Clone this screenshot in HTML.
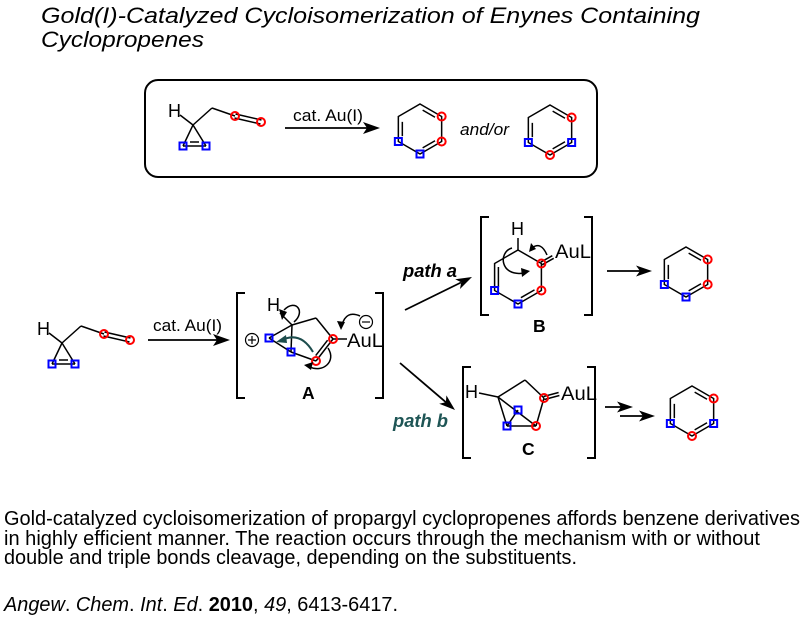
<!DOCTYPE html>
<html><head><meta charset="utf-8"><style>
html,body{margin:0;padding:0;background:#fff;}
svg{display:block;}
text{font-family:"Liberation Sans",Arial,sans-serif;fill:#000;}
</style></head><body>
<svg width="805" height="619" viewBox="0 0 805 619" xmlns="http://www.w3.org/2000/svg">
<rect width="805" height="619" fill="#fff"/>
<defs>
<g id="sm">
  <text x="-25" y="-8" font-size="18">H</text>
  <g stroke="#000" stroke-width="1.5" fill="none">
    <line x1="-13" y1="-10" x2="0" y2="0"/>
    <line x1="0" y1="0" x2="-10" y2="21"/>
    <line x1="0" y1="0" x2="13" y2="21"/>
    <line x1="-10" y1="21" x2="13" y2="21"/>
    <line x1="-3" y1="17" x2="6" y2="17"/>
    <line x1="0" y1="0" x2="19" y2="-17"/>
    <line x1="19" y1="-17" x2="42" y2="-9"/>
    <line x1="42.5" y1="-11" x2="68.5" y2="-5"/>
    <line x1="41.5" y1="-7" x2="67.5" y2="-1"/>
  </g>
  <circle cx="42" cy="-9" r="4" fill="none" stroke="#f00" stroke-width="2"/>
  <circle cx="68" cy="-3" r="4" fill="none" stroke="#f00" stroke-width="2"/>
  <rect x="-13.5" y="17.5" width="7" height="7" fill="none" stroke="#00f" stroke-width="2"/>
  <rect x="9.5" y="17.5" width="7" height="7" fill="none" stroke="#00f" stroke-width="2"/>
</g>
<g id="hex">
  <g stroke="#000" stroke-width="1.5" fill="none">
    <polygon points="0,-25 21.65,-12.5 21.65,12.5 0,25 -21.65,12.5 -21.65,-12.5"/>
    <line x1="2.65" y1="-18.87" x2="15.02" y2="-11.73"/>
    <line x1="15.02" y1="11.73" x2="2.65" y2="18.87"/>
    <line x1="-17.67" y1="-7.14" x2="-17.67" y2="7.14"/>
  </g>
</g>
</defs>

<!-- Title -->
<text x="41" y="23" font-size="22.5" font-style="italic" textLength="659" lengthAdjust="spacingAndGlyphs">Gold(I)-Catalyzed Cycloisomerization of Enynes Containing</text>
<text x="41" y="47" font-size="22.5" font-style="italic" textLength="163" lengthAdjust="spacingAndGlyphs">Cyclopropenes</text>

<!-- Top box -->
<rect x="145" y="80" width="452" height="97" rx="13" ry="13" fill="none" stroke="#000" stroke-width="2"/>
<use href="#sm" transform="translate(193,125)"/>
<text x="293" y="121" font-size="17" textLength="70" lengthAdjust="spacingAndGlyphs">cat. Au(I)</text>
<line x1="285" y1="128" x2="367" y2="128" stroke="#000" stroke-width="1.8"/>
<polygon points="380,128 363,122 367,128 363,134" fill="#000"/>
<use href="#hex" transform="translate(420,129)"/>
<circle cx="441.65" cy="116.5" r="4" fill="none" stroke="#f00" stroke-width="2"/>
<circle cx="441.65" cy="141.5" r="4" fill="none" stroke="#f00" stroke-width="2"/>
<rect x="416.5" y="150.5" width="7" height="7" fill="none" stroke="#00f" stroke-width="2"/>
<rect x="394.85" y="138" width="7" height="7" fill="none" stroke="#00f" stroke-width="2"/>
<text x="460" y="135" font-size="17" font-style="italic" textLength="49" lengthAdjust="spacingAndGlyphs">and/or</text>
<use href="#hex" transform="translate(550,130)"/>
<circle cx="571.65" cy="117.5" r="4" fill="none" stroke="#f00" stroke-width="2"/>
<rect x="568.15" y="139" width="7" height="7" fill="none" stroke="#00f" stroke-width="2"/>
<circle cx="550" cy="155" r="4" fill="none" stroke="#f00" stroke-width="2"/>
<rect x="524.85" y="139" width="7" height="7" fill="none" stroke="#00f" stroke-width="2"/>

<!-- Main starting material -->
<use href="#sm" transform="translate(62,343)"/>
<text x="153" y="331" font-size="17" textLength="69" lengthAdjust="spacingAndGlyphs">cat. Au(I)</text>
<line x1="148" y1="340" x2="217" y2="340" stroke="#000" stroke-width="1.8"/>
<polygon points="230,340 213,334 217,340 213,346" fill="#000"/>

<!-- Brackets A -->
<g stroke="#000" stroke-width="2" fill="none">
  <polyline points="245,293 237,293 237,398 245,398"/>
  <polyline points="375,293 383,293 383,398 375,398"/>
</g>
<!-- Intermediate A -->
<circle cx="252" cy="340" r="6.5" fill="none" stroke="#000" stroke-width="1.2"/>
<line x1="248" y1="340" x2="256" y2="340" stroke="#000" stroke-width="1.2"/>
<line x1="252" y1="336" x2="252" y2="344" stroke="#000" stroke-width="1.2"/>
<text x="267" y="311" font-size="18">H</text>
<g stroke="#000" stroke-width="1.5" fill="none">
  <line x1="280" y1="313" x2="292" y2="325"/>
  <line x1="269" y1="338" x2="292" y2="325"/>
  <line x1="292" y1="325" x2="291" y2="352"/>
  <line x1="269" y1="338" x2="291" y2="352"/>
  <line x1="291" y1="352" x2="316" y2="361"/>
  <line x1="292" y1="325" x2="316" y2="318"/>
  <line x1="316" y1="318" x2="333" y2="339"/>
  <line x1="333" y1="339" x2="316" y2="361"/>
  <line x1="327.6" y1="340.2" x2="315.7" y2="355.6"/>
  <line x1="333" y1="339" x2="347" y2="339"/>
</g>
<circle cx="333" cy="339" r="4" fill="none" stroke="#f00" stroke-width="2"/>
<circle cx="316" cy="361" r="4" fill="none" stroke="#f00" stroke-width="2"/>
<rect x="265.5" y="334.5" width="7" height="7" fill="none" stroke="#00f" stroke-width="2"/>
<rect x="287.5" y="348.5" width="7" height="7" fill="none" stroke="#00f" stroke-width="2"/>
<text x="347" y="347" font-size="19" textLength="36" lengthAdjust="spacingAndGlyphs">AuL</text>
<circle cx="366" cy="322" r="6.5" fill="none" stroke="#000" stroke-width="1.2"/>
<line x1="362" y1="322" x2="370" y2="322" stroke="#000" stroke-width="1.2"/>
<!-- curved arrows A -->
<g fill="none" stroke-width="1.5">
  <path d="M360 316 Q346 310 342 325" stroke="#000"/>
  <path d="M294 322 C306 312 296 298 284 310" stroke="#000"/>
  <path d="M313 352 Q300 330 280 341" stroke="#1d4d4d" stroke-width="2"/>
  <path d="M328 348 C337 362 322 373 310 367" stroke="#000"/>
</g>
<polygon points="341,330 337,321 345,322" fill="#000"/>
<polygon points="282,320 279,309 287,312" fill="#000"/>
<polygon points="276,342 286,335 287,343" fill="#1d4d4d"/>
<polygon points="304,365 313,362 311,370" fill="#000"/>
<text x="302" y="399" font-size="17.5" font-weight="bold">A</text>

<!-- path a -->
<line x1="405" y1="310" x2="461" y2="282.5" stroke="#000" stroke-width="1.8"/>
<polygon points="472,277 455.2,279.2 461.2,282.3 460,289" fill="#000"/>
<text x="403" y="277" font-size="18" font-weight="bold" font-style="italic" textLength="54" lengthAdjust="spacingAndGlyphs">path a</text>

<!-- Brackets B -->
<g stroke="#000" stroke-width="2" fill="none">
  <polyline points="489,217 481,217 481,315 489,315"/>
  <polyline points="584,217 592,217 592,315 584,315"/>
</g>
<text x="511" y="235" font-size="18">H</text>
<g stroke="#000" stroke-width="1.5" fill="none">
  <line x1="518" y1="238" x2="518" y2="250"/>
  <polygon points="518,250 541.4,263.5 541.4,290.5 518,304 494.6,290.5 494.6,263.5"/>
  <line x1="498.4" y1="267" x2="498.4" y2="287"/>
  <line x1="534.5" y1="289.9" x2="520.9" y2="297.7"/>
  <line x1="542.1" y1="264.8" x2="553.7" y2="258.3"/>
  <line x1="540.7" y1="262.2" x2="552.3" y2="255.7"/>
  <path d="M512 248 C498 252 500 277 524 273"/>
  <path d="M547 255 Q541 241 532 248"/>
</g>
<polygon points="530,271 521,268 522,277" fill="#000"/>
<polygon points="529,252 531,243 536,249" fill="#000"/>
<circle cx="541.4" cy="263.5" r="4" fill="none" stroke="#f00" stroke-width="2"/>
<circle cx="541.4" cy="290.5" r="4" fill="none" stroke="#f00" stroke-width="2"/>
<rect x="514.5" y="300.5" width="7" height="7" fill="none" stroke="#00f" stroke-width="2"/>
<rect x="491.1" y="287" width="7" height="7" fill="none" stroke="#00f" stroke-width="2"/>
<text x="555" y="258" font-size="19" textLength="36" lengthAdjust="spacingAndGlyphs">AuL</text>
<text x="533" y="332" font-size="17.5" font-weight="bold">B</text>

<line x1="607" y1="271" x2="640" y2="271" stroke="#000" stroke-width="1.8"/>
<polygon points="652,271 636,265.5 640,271 636,276.5" fill="#000"/>
<use href="#hex" transform="translate(686,272)"/>
<circle cx="707.65" cy="259.5" r="4" fill="none" stroke="#f00" stroke-width="2"/>
<circle cx="707.65" cy="284.5" r="4" fill="none" stroke="#f00" stroke-width="2"/>
<rect x="682.5" y="293.5" width="7" height="7" fill="none" stroke="#00f" stroke-width="2"/>
<rect x="660.85" y="281" width="7" height="7" fill="none" stroke="#00f" stroke-width="2"/>

<!-- path b -->
<line x1="400" y1="363" x2="446" y2="402.3" stroke="#000" stroke-width="1.8"/>
<polygon points="455,410 439.2,403.8 445.9,402.2 446.4,395.4" fill="#000"/>
<text x="393" y="427" font-size="18" font-weight="bold" font-style="italic" style="fill:#1e5555" textLength="55" lengthAdjust="spacingAndGlyphs">path b</text>

<!-- Brackets C -->
<g stroke="#000" stroke-width="2" fill="none">
  <polyline points="471,367 463,367 463,458 471,458"/>
  <polyline points="587,367 595,367 595,458 587,458"/>
</g>
<text x="465" y="398" font-size="18">H</text>
<g stroke="#000" stroke-width="1.5" fill="none">
  <line x1="479" y1="393" x2="498" y2="397"/>
  <line x1="498" y1="397" x2="525" y2="380"/>
  <line x1="525" y1="380" x2="544" y2="398"/>
  <line x1="544" y1="398" x2="536" y2="426"/>
  <line x1="536" y1="426" x2="507" y2="426"/>
  <line x1="507" y1="426" x2="498" y2="397"/>
  <line x1="498" y1="397" x2="536" y2="426"/>
  <line x1="507" y1="426" x2="518" y2="410"/>
  <line x1="544.4" y1="399.5" x2="559.4" y2="395.5"/>
  <line x1="543.6" y1="396.5" x2="558.6" y2="392.5"/>
</g>
<circle cx="544" cy="398" r="4" fill="none" stroke="#f00" stroke-width="2"/>
<circle cx="536" cy="426" r="4" fill="none" stroke="#f00" stroke-width="2"/>
<rect x="503.5" y="422.5" width="7" height="7" fill="none" stroke="#00f" stroke-width="2"/>
<rect x="514.5" y="406.5" width="7" height="7" fill="none" stroke="#00f" stroke-width="2"/>
<text x="561" y="400" font-size="19" textLength="36" lengthAdjust="spacingAndGlyphs">AuL</text>
<text x="522" y="455" font-size="17.5" font-weight="bold">C</text>

<line x1="605" y1="407" x2="622" y2="407" stroke="#000" stroke-width="1.8"/>
<polygon points="633,407 617,401.5 621,407 617,412.5" fill="#000"/>
<line x1="620" y1="416" x2="643" y2="416" stroke="#000" stroke-width="1.8"/>
<polygon points="655,416 639,410.5 643,416 639,421.5" fill="#000"/>
<use href="#hex" transform="translate(692,411)"/>
<circle cx="713.65" cy="398.5" r="4" fill="none" stroke="#f00" stroke-width="2"/>
<rect x="710.15" y="420" width="7" height="7" fill="none" stroke="#00f" stroke-width="2"/>
<circle cx="692" cy="436" r="4" fill="none" stroke="#f00" stroke-width="2"/>
<rect x="666.85" y="420" width="7" height="7" fill="none" stroke="#00f" stroke-width="2"/>

<!-- Bottom text -->
<text x="4" y="525" font-size="20" textLength="796" lengthAdjust="spacingAndGlyphs">Gold-catalyzed cycloisomerization of propargyl cyclopropenes affords benzene derivatives</text>
<text x="4" y="545" font-size="20" textLength="756" lengthAdjust="spacingAndGlyphs">in highly efficient manner. The reaction occurs through the mechanism with or without</text>
<text x="4" y="564" font-size="20" textLength="573" lengthAdjust="spacingAndGlyphs">double and triple bonds cleavage, depending on the substituents.</text>
<text x="4" y="611" font-size="20" textLength="394" lengthAdjust="spacingAndGlyphs"><tspan font-style="italic">Angew</tspan>. <tspan font-style="italic">Chem</tspan>. <tspan font-style="italic">Int</tspan>. <tspan font-style="italic">Ed</tspan>. <tspan font-weight="bold">2010</tspan>, <tspan font-style="italic">49</tspan>, 6413-6417.</text>
</svg>
</body></html>
